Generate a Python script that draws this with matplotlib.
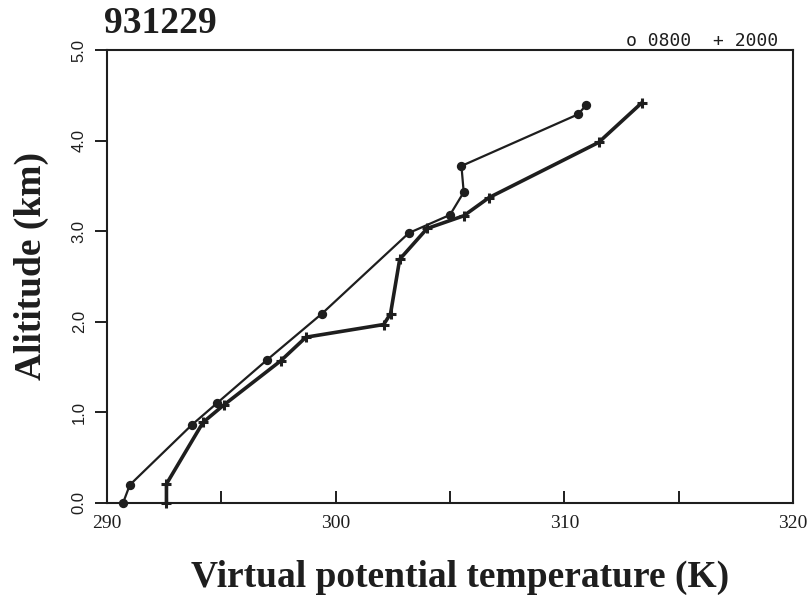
import matplotlib.pyplot as plt
from matplotlib.ticker import MultipleLocator, FormatStrFormatter

# virtual potential temperature (K) vs altitude (km), sounding 931229
theta_0800 = [290.7, 291.0, 293.7, 294.8, 297.0, 299.4, 303.2, 305.0, 305.6, 305.5, 310.6, 310.95]
z_0800 = [0.0, 0.2, 0.86, 1.1, 1.58, 2.09, 2.98, 3.18, 3.43, 3.72, 4.29, 4.39]

theta_2000 = [292.6, 292.6, 294.2, 295.1, 297.6, 298.7, 302.1, 302.4, 302.8, 304.0, 305.6, 306.7, 311.5, 313.4]
z_2000 = [0.0, 0.21, 0.89, 1.08, 1.57, 1.83, 1.97, 2.09, 2.69, 3.03, 3.17, 3.37, 3.98, 4.42]

x_ticks = [290, 300, 310, 320]
y_ticks = [0.0, 1.0, 2.0, 3.0, 4.0, 5.0]

ink = '#1e1e1e'
serif = 'Liberation Serif'
sans = 'Liberation Sans'

fig = plt.figure(figsize=(8.09, 5.95), dpi=100)
ax = fig.add_axes([107/809, 92/595, 686/809, 453/595])

ax.plot(theta_0800, z_0800, color=ink, lw=1.6, marker='o', ms=5.5,
        mfc=ink, mec=ink, mew=1.2, clip_on=False, zorder=3)
ax.plot(theta_2000, z_2000, color=ink, lw=2.6, marker='+', ms=7,
        mec=ink, mew=2.2, clip_on=False, zorder=3)

ax.set_xlim(290, 320)
ax.set_ylim(0, 5)
ax.set_xticks(x_ticks)
ax.xaxis.set_minor_locator(MultipleLocator(5))
ax.set_yticks(y_ticks)
ax.yaxis.set_major_formatter(FormatStrFormatter('%.1f'))

for s in ax.spines.values():
    s.set_linewidth(1.5)
    s.set_color(ink)

ax.tick_params(axis='x', which='both', direction='in', length=9, width=1.4,
               color=ink, pad=9)
ax.tick_params(axis='x', which='major', labelsize=14, labelfontfamily=serif,
               labelcolor=ink)
ax.tick_params(axis='y', direction='out', length=9, width=1.4, color=ink,
               labelsize=12, pad=11, labelfontfamily=sans, labelcolor=ink,
               labelrotation=90)
for lab in ax.get_yticklabels():
    lab.set_va('center')
    lab.set_ha('center')

fig.text(104/809, 1 - 33/595, '931229', family=serif, weight='bold',
         fontsize=27, color=ink, va='baseline', ha='left')
fig.text(778/809, 1 - 46/595, 'o 0800  + 2000', family='DejaVu Sans Mono',
         fontsize=13, color=ink, va='baseline', ha='right')
fig.text(460/809, 1 - 587/595, 'Virtual potential temperature (K)',
         family=serif, weight='bold', fontsize=27, color=ink,
         va='baseline', ha='center')
fig.text(31/809, 1 - 266/595, 'Alititude (km)', family=serif, weight='bold',
         fontsize=27, color=ink, rotation=90, va='center', ha='center')

fig.savefig('out.png', dpi=100)
